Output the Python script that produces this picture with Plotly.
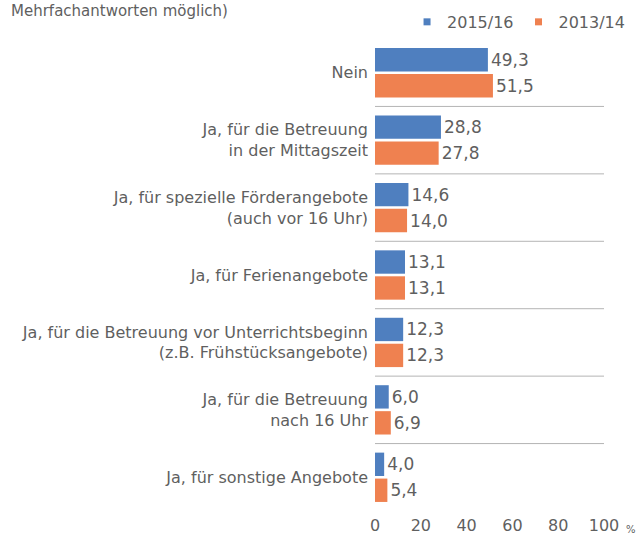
import plotly.graph_objects as go

categories = [
    "Nein",
    "Ja, für die Betreuung<br>in der Mittagszeit",
    "Ja, für spezielle Förderangebote<br>(auch vor 16 Uhr)",
    "Ja, für Ferienangebote",
    "Ja, für die Betreuung vor Unterrichtsbeginn<br>(z.B. Frühstücksangebote)",
    "Ja, für die Betreuung<br>nach 16 Uhr",
    "Ja, für sonstige Angebote",
]
values_2015 = [49.3, 28.8, 14.6, 13.1, 12.3, 6.0, 4.0]
values_2013 = [51.5, 27.8, 14.0, 13.1, 12.3, 6.9, 5.4]
series_names = ["2015/16", "2013/14"]
x_ticks = [0, 20, 40, 60, 80, 100]

BLUE = "#4f7fbf"
ORANGE = "#ef8150"
GRAY = "#5f5f5f"
FONT = "DejaVu Sans"

fig = go.Figure()
for name, vals, col in [(series_names[0], values_2015, BLUE), (series_names[1], values_2013, ORANGE)]:
    fig.add_trace(go.Bar(
        y=categories, x=vals, name=name, orientation="h",
        marker=dict(color=col, line=dict(width=0)),
        text=[f"{v:.1f}".replace(".", ",") for v in vals],
        textposition="outside", cliponaxis=False,
        textfont=dict(color=GRAY, size=17, family=FONT),
        showlegend=False,
    ))
# legend entries with small square markers
for name, col in [(series_names[0], BLUE), (series_names[1], ORANGE)]:
    fig.add_trace(go.Scatter(
        x=[None], y=[None], mode="markers", name=name,
        marker=dict(symbol="square", size=7, color=col),
    ))

shapes = []
for k in range(len(categories) - 1):
    shapes.append(dict(type="line", xref="x", yref="y", x0=0, x1=100.5,
                       y0=k + 0.5, y1=k + 0.5,
                       line=dict(color="#b4b4b4", width=1)))

fig.update_layout(
    width=636, height=535,
    margin=dict(l=375, r=32, t=39, b=24, autoexpand=False),
    paper_bgcolor="white", plot_bgcolor="white",
    barmode="group", bargap=0.23, bargroupgap=0.1,
    font=dict(family=FONT, color=GRAY, size=16),
    showlegend=True,
    legend=dict(orientation="h", xref="container", yref="container",
                x=0.64, xanchor="left", y=0.959, yanchor="middle",
                font=dict(size=16, color=GRAY), itemwidth=30, traceorder="normal",
                bgcolor="rgba(0,0,0,0)", borderwidth=0),
    shapes=shapes,
    annotations=[
        dict(text="Mehrfachantworten möglich)", xref="paper", yref="paper",
             x=-1.6, y=1.0, xanchor="left", yanchor="top", yshift=39,
             showarrow=False, font=dict(size=15, color=GRAY, family=FONT)),
        dict(text="%", xref="x", yref="paper", x=100, y=0, xshift=20, yshift=-18,
             xanchor="left", yanchor="middle", showarrow=False,
             font=dict(size=10, color=GRAY, family=FONT)),
    ],
)
fig.update_xaxes(range=[0, 100], tickvals=x_ticks, showgrid=False, zeroline=False,
                 showline=False, ticks="", automargin=False, ticklabelstandoff=3,
                 tickfont=dict(size=16, color=GRAY))
fig.update_yaxes(autorange="reversed", showgrid=False, showline=False, ticks="",
                 automargin=False, ticklabelstandoff=6,
                 tickfont=dict(size=16, color=GRAY))

# remove the default page margin so the figure fills the window exactly
fig.write_html("out.html", config={"displayModeBar": False},
               post_script="document.body.style.margin='0';document.body.style.overflow='hidden';")
